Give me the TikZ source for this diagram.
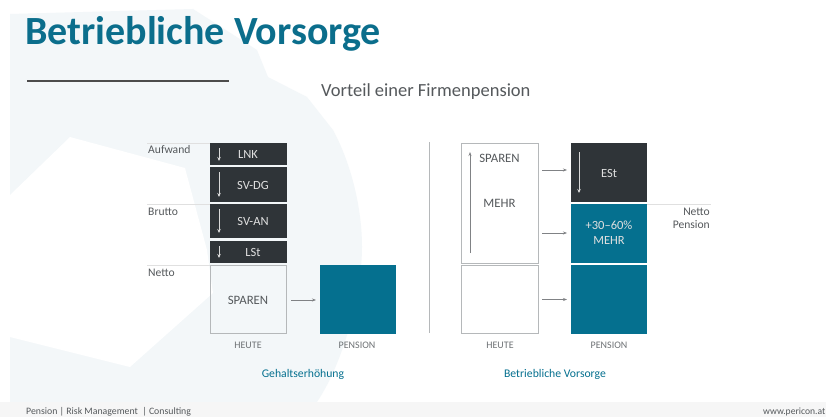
\documentclass[tikz,border=0pt]{standalone}
\usepackage{fontspec}
\setmainfont{Carlito}
\usetikzlibrary{arrows.meta,calc}
\definecolor{teal}{HTML}{05708F}
\definecolor{titleteal}{HTML}{0B6E8C}
\definecolor{dark}{HTML}{2F3438}
\definecolor{pale}{HTML}{F3F7F9}
\definecolor{foot}{HTML}{F6F6F6}
\definecolor{txt}{HTML}{55595C}
\definecolor{rulec}{HTML}{B5B8BA}
\tikzset{
 x=1pt,y=-1pt,
 darkbox/.style={fill=dark,draw=none},
 tealbox/.style={fill=teal,draw=none},
 whitebox/.style={draw=rulec,line width=0.9pt},
 lbl/.style={text=txt,font=\fontsize{11.6}{13}\selectfont,inner sep=0pt},
 inlbl/.style={text=white!88!black,font=\fontsize{12.5}{15}\selectfont,inner sep=0pt},
 graylbl/.style={text=txt,font=\fontsize{12.8}{15}\selectfont,inner sep=0pt},
 smalllbl/.style={text=txt!85!white,font=\fontsize{10}{12}\selectfont,inner sep=0pt},
 captionlbl/.style={text=teal,font=\fontsize{11.7}{14}\selectfont,inner sep=0pt},
 garrow/.style={draw=txt!75!white,line width=0.6pt,-{Stealth[length=4pt,width=3pt]}},
 warrow/.style={draw=white!85!black,line width=0.7pt,-{Stealth[length=4pt,width=3.5pt]}},
 guide/.style={draw=black!12,line width=0.6pt},
}
\begin{document}
\begin{tikzpicture}
\useasboundingbox (0,0) rectangle (826,417);
\fill[white] (0,0) rectangle (826,417);
% background shape
\fill[pale] (10,14) -- (193,9) -- (257,50) -- (268,77) -- (307,97) -- (333,130)
  .. controls (352,165) and (362,210) .. (362,247)
  .. controls (362,290) and (345,360) .. (317,402) -- (10,402) -- cycle;
\fill[white] (10,195) -- (70,137) -- (185,168) -- (207,250) -- (213,293) -- (130,367) -- (10,337) -- cycle;
\fill[foot] (0,402) rectangle (826,417);
% header
\node[text=titleteal,font=\bfseries\fontsize{40}{44}\selectfont,anchor=base west,inner sep=0pt] (title) at (25,45) {Betriebliche Vorsorge};
\coordinate (ra) at (27,81); \coordinate (rb) at (229,81);
\draw[draw=black!70,line width=1.1pt] (ra) -- (rb);
\node[text=txt,font=\fontsize{18.5}{22}\selectfont,anchor=base west,inner sep=0pt] (sub) at (321,97) {Vorteil einer Firmenpension};
% guide lines
\coordinate (g1) at (147,143); \coordinate (g2) at (147,204); \coordinate (g3) at (147,265); \coordinate (g4) at (711,204);
\draw[guide] (g1) -- (210,143);
\draw[guide] (g2) -- (210,204);
\draw[guide] (g3) -- (210,265);
\draw[guide] (647,204) -- (g4);
\node[lbl,anchor=base west] (aufw) at (148,153) {Aufwand};
\node[lbl,anchor=base west] (brut) at (148,215) {Brutto};
\node[lbl,anchor=base west] (nett) at (148,276) {Netto};
\node[lbl,anchor=base east] (np1) at (710,215) {Netto};
\node[lbl,anchor=base east] (np2) at (710,228) {Pension};
% left stack
\path[darkbox] (210,143) rectangle (287,165);
\path[darkbox] (210,167) rectangle (287,201.5);
\path[darkbox] (210,204) rectangle (287,238);
\path[darkbox] (210,240.5) rectangle (287,262.5);
\path[whitebox] (210.5,265.5) rectangle (286.5,333.5);
\path[tealbox] (319.5,265) rectangle (396,333.5);
\node[inlbl] (lnk) at (248,154.5) {LNK};
\node[inlbl] (svdg) at (253,185) {SV-DG};
\node[inlbl] (svan) at (253,221) {SV-AN};
\node[inlbl] (lst) at (253,252) {LSt};
\node[graylbl] (sp1) at (248,300) {SPAREN};
\node[smalllbl] (h1) at (248,345) {HEUTE};
\node[smalllbl] (p1) at (357,345) {PENSION};
\node[captionlbl] (c1) at (303,374) {Gehaltserhöhung};
\draw[warrow] (219,148) -- (219,161);
\draw[warrow] (219,172) -- (219,197);
\draw[warrow] (219,209) -- (219,233);
\draw[warrow] (219,246) -- (219,258);
\draw[garrow] (291,300) -- (316,300);
% divider
\coordinate (d1) at (429,142); \coordinate (d2) at (429,333);
\draw[draw=rulec,line width=0.8pt] (d1) -- (d2);
% right stack
\path[whitebox] (461.5,143) rectangle (538,263);
\path[whitebox] (461.5,265.5) rectangle (538,333.5);
\path[darkbox] (571,142.5) rectangle (647,201.5);
\path[tealbox] (571,204) rectangle (647,263);
\path[tealbox] (571,265) rectangle (647,333.5);
\node[graylbl] (sp2) at (499.5,158.5) {SPAREN};
\node[graylbl] (meh) at (499.5,203) {MEHR};
\node[inlbl] (est) at (609,173) {ESt};
\node[inlbl,align=center] (pct) at (609,233) {+30–60\%\\MEHR};
\node[smalllbl] (h2) at (500,345) {HEUTE};
\node[smalllbl] (p2) at (609,345) {PENSION};
\node[captionlbl] (c2) at (555,374) {Betriebliche Vorsorge};
\draw[garrow] (470,253) -- (470,152);
\draw[warrow] (579,152) -- (579,193);
\draw[garrow] (542,170) -- (567,170);
\draw[garrow] (542,233) -- (567,233);
\draw[garrow] (542,299.5) -- (567,299.5);
% footer
\node[text=txt,font=\fontsize{9.8}{10}\selectfont,anchor=base west,inner sep=0pt] (fl) at (26,414.5) {Pension | Risk Management\ \ | Consulting};
\node[text=txt,font=\fontsize{9.6}{10}\selectfont,anchor=base east,inner sep=0pt] (fr) at (825.5,414.5) {www.pericon.at};
\end{tikzpicture}
\end{document}
